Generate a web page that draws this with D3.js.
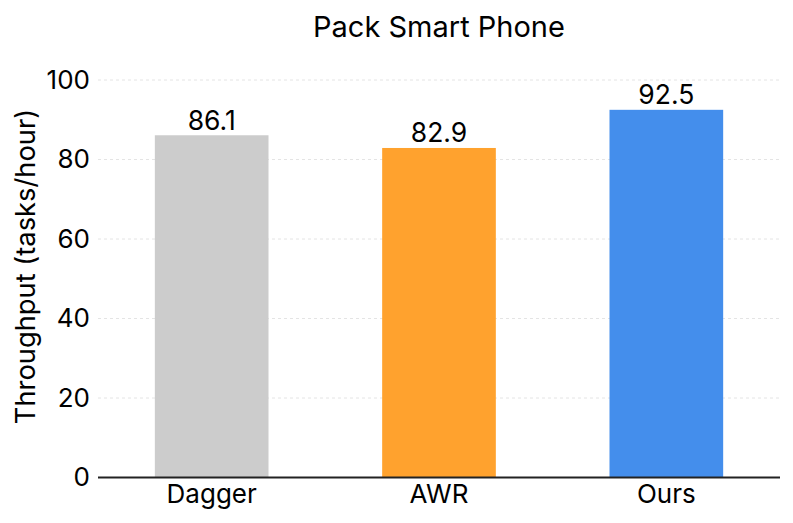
<!DOCTYPE html>
<html><head><meta charset="utf-8">
<script src="https://cdn.jsdelivr.net/npm/d3@7"></script>
<style>body{margin:0;background:#fff;font-family:Inter,sans-serif}</style>
</head><body>
<svg id="c" width="793" height="523"></svg>
<script>
const categories = ["Dagger", "AWR", "Ours"];
const values = [86.1, 82.9, 92.5];
const colors = ["#cccccc", "#ffa22e", "#448eec"];
const yTicks = [0, 20, 40, 60, 80, 100];
const title = "Pack Smart Phone";
const yLabel = "Throughput (tasks/hour)";

const svg = d3.select("#c");
const m = {l: 98, r: 13, t: 80, b: 45.5};
const W = 793, H = 523;
const x = d3.scaleBand().domain(categories).range([m.l, W - m.r]).paddingInner(0.5).paddingOuter(0.25);
const y = d3.scaleLinear().domain([0, 100]).range([H - m.b, m.t]);

// grid
svg.append("g").selectAll("line").data(yTicks.filter(d => d > 0)).join("line")
  .attr("x1", m.l).attr("x2", W - m.r)
  .attr("y1", d => y(d)).attr("y2", d => y(d))
  .attr("stroke", "#dddddd").attr("stroke-width", 0.8).attr("stroke-dasharray", "3,3");

// bars
svg.append("g").selectAll("rect").data(values).join("rect")
  .attr("x", (d, i) => x(categories[i])).attr("width", x.bandwidth())
  .attr("y", d => y(d)).attr("height", d => y(0) - y(d))
  .attr("fill", (d, i) => colors[i]);

// value labels
svg.append("g").selectAll("text").data(values).join("text")
  .attr("x", (d, i) => x(categories[i]) + x.bandwidth() / 2)
  .attr("y", d => y(d) - 5.5)
  .attr("text-anchor", "middle").attr("font-size", 26.5).attr("fill", "#000")
  .text(d => d.toFixed(1));

// y axis
const ya = svg.append("g").attr("transform", `translate(${m.l},0)`)
  .call(d3.axisLeft(y).tickValues(yTicks).tickSize(0).tickPadding(8));
ya.select(".domain").remove();
ya.selectAll("text").attr("font-size", 26).attr("font-family", "Inter,sans-serif").attr("fill", "#000");

// x axis
const xa = svg.append("g").attr("transform", `translate(0,${y(0)})`)
  .call(d3.axisBottom(x).tickSize(0).tickPadding(7));
xa.select(".domain").attr("stroke", "#222").attr("stroke-width", 2).attr("d", `M${m.l},0H${W - m.r}`);
xa.selectAll("text").attr("font-size", 26).attr("font-family", "Inter,sans-serif").attr("fill", "#000");

// title
svg.append("text").attr("x", (m.l + W - m.r) / 2).attr("y", 37)
  .attr("text-anchor", "middle").attr("font-size", 29).attr("fill", "#000").text(title);

// y label
svg.append("text").attr("transform", `translate(35,266.5) rotate(-90)`)
  .attr("text-anchor", "middle").attr("font-size", 27.3).attr("fill", "#000").text(yLabel);
</script>
</body></html>
